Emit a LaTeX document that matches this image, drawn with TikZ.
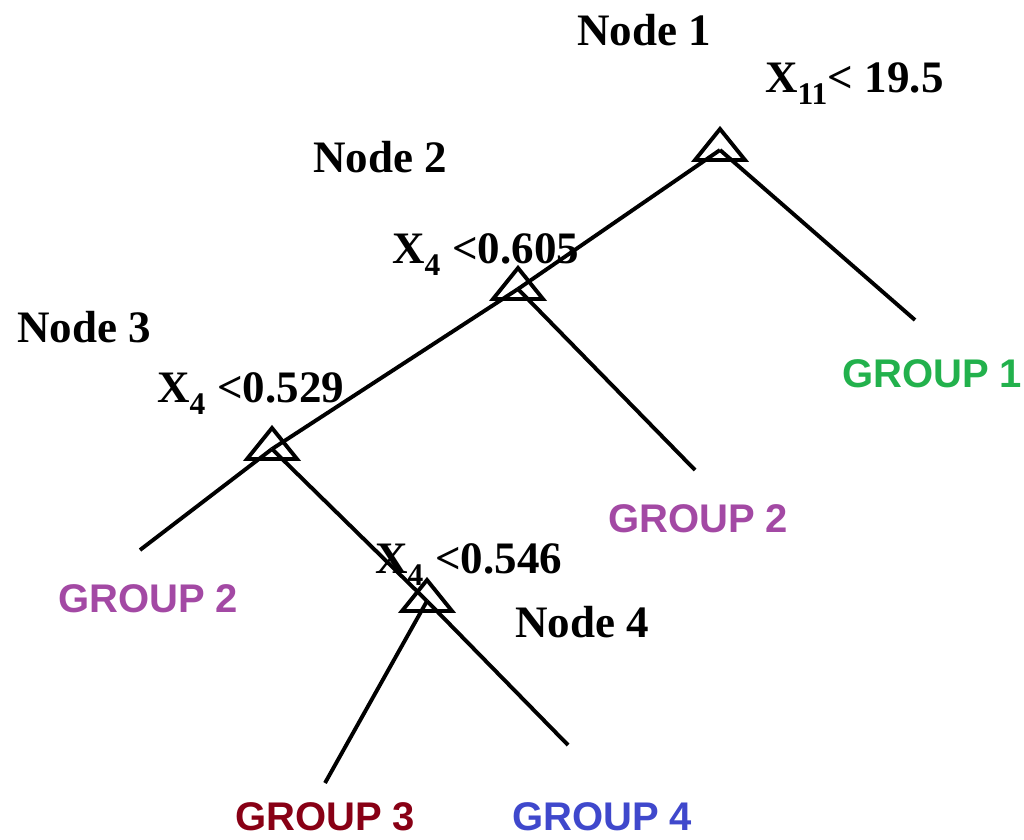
\documentclass[tikz,border=0pt]{standalone}
\usepackage{fontspec}
\setmainfont{Liberation Serif}
\newfontfamily\grpfont{Liberation Sans}
\definecolor{gGreen}{RGB}{34,177,76}
\definecolor{gPurple}{RGB}{163,73,164}
\definecolor{gRed}{RGB}{136,0,21}
\definecolor{gBlue}{RGB}{63,72,204}
\begin{document}
\begin{tikzpicture}[x=1pt,y=-1pt,
  branch/.style={line width=3.9pt},
  tri/.style={line width=3.9pt, line join=miter},
  lbl/.style={anchor=base west, inner sep=0pt, font=\fontsize{45}{50}\selectfont\bfseries},
  grp/.style={anchor=base west, inner sep=0pt, font=\fontsize{40}{46}\selectfont\grpfont\bfseries}]
\useasboundingbox (0,0) rectangle (1024,839);
% split points (triangle centroids)
\coordinate (n1) at (720,150);
\coordinate (n2) at (518,289);
\coordinate (n3) at (272,449);
\coordinate (n4) at (427,601);
% leaf ends
\coordinate (e1) at (915,320);
\coordinate (e2) at (695,470);
\coordinate (e3) at (140,550);
\coordinate (e5) at (325,783);
\coordinate (e6) at (568,745);
% connectors
\draw[branch] (n1) -- (n2);
\draw[branch] (n1) -- (e1);
\draw[branch] (n2) -- (n3);
\draw[branch] (n2) -- (e2);
\draw[branch] (n3) -- (e3);
\draw[branch] (n3) -- (n4);
\draw[branch] (n4) -- (e5);
\draw[branch] (n4) -- (e6);
% triangles
\foreach \n in {n1,n2,n3,n4}
  \draw[tri] (\n) ++(0,-21) -- ++(25,31) -- ++(-50,0) -- cycle;
% labels
\node[lbl] (t1) at (577,45) {Node 1};
\node[lbl] (c1) at (765,92) {X\textsubscript{11}< 19.5};
\node[lbl] (t2) at (313,172) {Node 2};
\node[lbl] (c2) at (392,263) {X\textsubscript{4} <0.605};
\node[lbl] (t3) at (17,342) {Node 3};
\node[lbl] (c3) at (157,402) {X\textsubscript{4} <0.529};
\node[lbl] (c4) at (375,573) {X\textsubscript{4} <0.546};
\node[lbl] (t4) at (515,637) {Node 4};
% groups
\node[grp, text=gGreen] (g1) at (842,387) {GROUP 1};
\node[grp, text=gPurple] (g2a) at (608,532) {GROUP 2};
\node[grp, text=gPurple] (g2b) at (58,612) {GROUP 2};
\node[grp, text=gRed] (g3) at (235,830) {GROUP 3};
\node[grp, text=gBlue] (g4) at (512,830) {GROUP 4};
\end{tikzpicture}
\end{document}
